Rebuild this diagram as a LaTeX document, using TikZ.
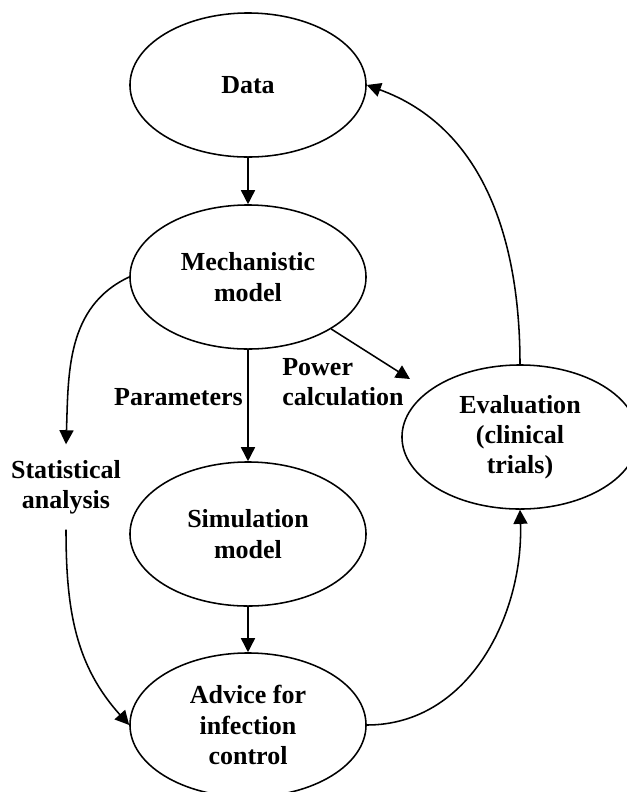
\documentclass[tikz,border=0pt]{standalone}
\usepackage{fontspec}
\setmainfont{Liberation Serif}
\usetikzlibrary{shapes.geometric,arrows.meta}

\begin{document}
\begin{tikzpicture}[x=0.025cm, y=-0.025cm, >={Triangle[length=10pt,width=10pt]},
  font=\fontsize{18.5}{21.5}\selectfont\bfseries,
  oval/.style={ellipse, draw, line width=1.1pt, minimum width=5.9cm, minimum height=3.6cm, inner sep=0pt, align=center},
  link/.style={->, line width=1.1pt}]
\useasboundingbox (0,0) rectangle (627,792);
\node (DATA) at (248,85) [oval] {Data};
\node (MECH) at (248,277) [oval] {Mechanistic\\ model};
\node (SIM) at (248,534) [oval] {Simulation\\ model};
\node (ADV) at (248,725) [oval] {Advice for\\ infection\\ control};
\node (EVAL) at (520,437) [oval] {Evaluation\\ (clinical\\ trials)};
\node (PAR) at (243,397) [anchor=east, inner sep=0pt] {Parameters};
\node (POW) at (282,382) [anchor=west, align=left, inner sep=0pt] {Power\\ calculation};
\node (STAT) at (66,487) [align=center, inner xsep=0pt, inner ysep=11pt] {Statistical\\ analysis};
\coordinate (POWEND) at (410,379);


\draw [link] (DATA) to (MECH);
\draw [link] (MECH) to (SIM);
\draw [link] (SIM) to (ADV);
\draw [link] (MECH.-32) to (POWEND);
\path [link] (MECH.west) edge [out=205, in=88] (STAT.north);
\path [link] (STAT.south) edge [out=-90, in=132] (ADV.west);
\path [link] (ADV.east) edge [out=0, in=-88] (EVAL.south);
\path [link] (EVAL.north) edge [out=90, in=-20] (DATA.east);
\end{tikzpicture}
\end{document}
